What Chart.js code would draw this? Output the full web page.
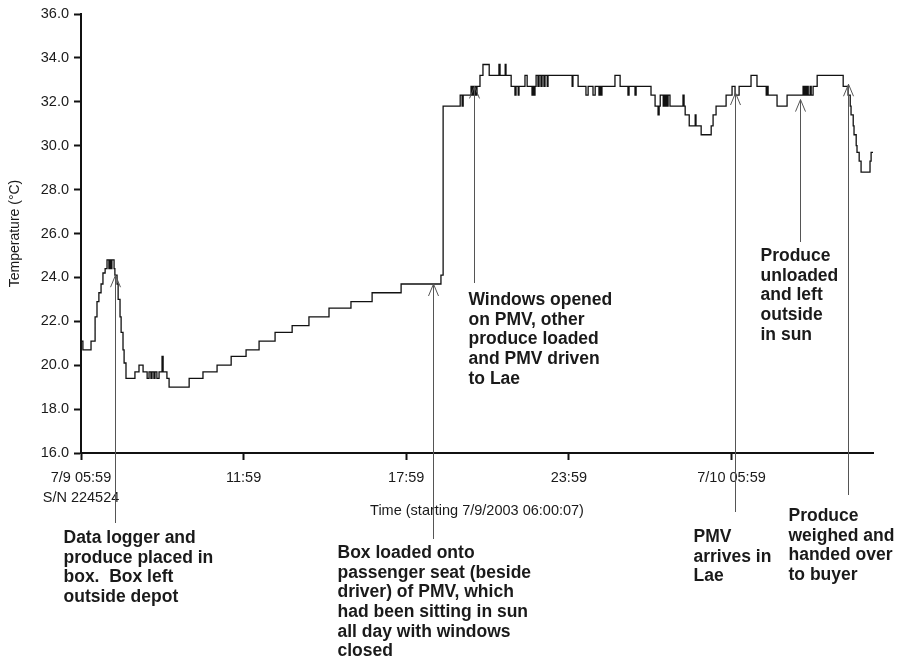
<!DOCTYPE html>
<html>
<head>
<meta charset="utf-8">
<title>Temperature log</title>
<script src="https://cdn.jsdelivr.net/npm/chart.js@4.4.1/dist/chart.umd.min.js"></script>
<style>
  body { margin: 0; background: #fff; }
  #wrap { width: 908px; height: 660px; }
</style>
</head>
<body>
<div id="wrap"><canvas id="chart" width="908" height="660"></canvas></div>
<script>
const hours = [
  0, 0.07, 0.37, 0.52, 0.59, 0.66, 0.74, 0.81, 0.89, 0.96,
  1.03, 1.07, 1.11, 1.14, 1.22, 1.25, 1.33, 1.37, 1.44, 1.48,
  1.55, 1.59, 1.66, 1.99, 2.14, 2.29, 2.44, 2.51, 2.58, 2.62,
  2.69, 2.73, 2.80, 2.88, 2.99, 3.03, 3.17, 3.25, 3.99, 4.50,
  5.02, 5.54, 6.09, 6.57, 7.16, 7.79, 8.41, 9.15, 9.96, 10.74,
  11.81, 13.28, 13.36, 13.99, 14.06, 14.10, 14.39, 14.43, 14.46, 14.50,
  14.54, 14.58, 14.61, 14.72, 14.83, 15.06, 15.42, 15.46, 15.65, 15.68,
  15.87, 16.01, 16.05, 16.13, 16.16, 16.38, 16.46, 16.64, 16.68, 16.72,
  16.75, 16.79, 16.86, 16.90, 16.97, 17.01, 17.08, 17.12, 17.20, 17.23,
  18.12, 18.15, 18.34, 18.63, 18.71, 18.89, 18.97, 19.11, 19.15, 19.19,
  19.22, 19.70, 19.89, 20.18, 20.22, 20.44, 20.48, 21.03, 21.18, 21.29,
  21.33, 21.37, 21.48, 21.51, 21.55, 21.59, 21.62, 21.66, 21.73, 22.21,
  22.25, 22.29, 22.44, 22.66, 22.69, 22.88, 23.25, 23.32, 23.43, 23.80,
  24.02, 24.13, 24.28, 24.72, 24.94, 25.28, 25.31, 25.35, 25.68, 26.05,
  26.64, 26.68, 26.72, 26.75, 26.79, 26.83, 26.90, 26.94, 27.01, 27.16,
  28.12, 28.30, 28.38, 28.41, 28.49, 28.52, 28.60, 28.63, 28.71, 28.78,
  29.11, 29.15, 29.22
];
const temps = [
  21.1, 20.7, 21.1, 22.2, 22.9, 23.3, 23.7, 24.2, 24.4, 24.8,
  24.4, 24.8, 24.4, 24.8, 24.4, 24.1, 23.7, 23.0, 22.2, 21.5,
  20.7, 20.1, 19.4, 19.7, 20.0, 19.7, 19.4, 19.7, 19.4, 19.7,
  19.4, 19.7, 19.4, 19.7, 20.4, 19.7, 19.4, 19.0, 19.4, 19.7,
  20.0, 20.4, 20.7, 21.1, 21.5, 21.8, 22.2, 22.6, 22.9, 23.3,
  23.7, 24.1, 31.8, 32.3, 31.8, 32.3, 32.7, 32.3, 32.7, 32.3,
  32.7, 32.3, 32.7, 33.2, 33.7, 33.2, 33.7, 33.2, 33.7, 33.2,
  32.7, 32.3, 32.7, 32.3, 32.7, 33.2, 32.7, 32.3, 32.7, 32.3,
  32.7, 33.2, 32.7, 33.2, 32.7, 33.2, 32.7, 33.2, 32.7, 33.2,
  32.7, 33.2, 32.7, 32.3, 32.7, 32.3, 32.7, 32.3, 32.7, 32.3,
  32.7, 33.2, 32.7, 32.3, 32.7, 32.3, 32.7, 32.3, 31.8, 31.4,
  31.8, 32.3, 31.8, 32.3, 31.8, 32.3, 31.8, 32.3, 31.8, 32.3,
  31.8, 31.4, 30.9, 31.4, 30.9, 30.5, 30.9, 31.4, 31.8, 32.3,
  32.7, 32.3, 32.7, 33.2, 32.7, 32.3, 32.7, 32.3, 31.8, 32.3,
  32.7, 32.3, 32.7, 32.3, 32.7, 32.3, 32.7, 32.3, 32.7, 33.2,
  32.7, 32.3, 31.8, 31.4, 30.9, 30.5, 30.0, 29.7, 29.3, 28.8,
  29.3, 29.7, 29.7
];

// x axis ticks
const tickHours = [0, 6, 12, 18, 24];
const tickLabels = [["7/9 05:59", "S/N 224524"], "11:59", "17:59", "23:59", "7/10 05:59"];

// event notes: where the arrow points (hours, temp) and the text under it
const noteHours = [1.25, 12.99, 14.50, 24.13, 26.53, 28.30];
const noteTemps = [24.1, 23.7, 32.7, 32.4, 32.1, 32.8];
const noteTexts = [
  ["Data logger and", "produce placed in", "box.  Box left", "outside depot"],
  ["Box loaded onto", "passenger seat (beside", "driver) of PMV, which", "had been sitting in sun", "all day with windows", "closed"],
  ["Windows opened", "on PMV, other", "produce loaded", "and PMV driven", "to Lae"],
  ["PMV", "arrives in", "Lae"],
  ["Produce", "unloaded", "and left", "outside", "in sun"],
  ["Produce", "weighed and", "handed over", "to buyer"]
];
// text offset from the arrow, first line y, where the arrow line stops
const noteLayout = [
  { dx: -52, top: 538, lineEnd: 523 },
  { dx: -96, top: 553, lineEnd: 539 },
  { dx: -6, top: 300, lineEnd: 283 },
  { dx: -42, top: 537, lineEnd: 512 },
  { dx: -40, top: 256, lineEnd: 242 },
  { dx: -60, top: 516, lineEnd: 495 }
];

const FONT = '"Liberation Sans", Arial, sans-serif';
const ink = '#1a1a1a';

var notesPlugin = {
  id: 'notes',
  afterDraw: function (chart) {
    const ctx = chart.ctx;
    const xs = chart.scales.x, ys = chart.scales.y;
    ctx.save();
    noteHours.forEach(function (h, i) {
      const px = Math.round(xs.getPixelForValue(h)) + 0.5;
      const py = ys.getPixelForValue(noteTemps[i]);
      const lay = noteLayout[i];
      // arrow
      ctx.strokeStyle = '#555';
      ctx.lineWidth = 1;
      ctx.beginPath();
      ctx.moveTo(px, py);
      ctx.lineTo(px, lay.lineEnd);
      ctx.moveTo(px - 5, py + 12);
      ctx.lineTo(px, py);
      ctx.lineTo(px + 5, py + 12);
      ctx.stroke();
      // label
      ctx.fillStyle = ink;
      ctx.font = 'bold 17.5px ' + FONT;
      ctx.textAlign = 'left';
      ctx.textBaseline = 'middle';
      noteTexts[i].forEach(function (line, j) {
        ctx.fillText(line, px + lay.dx, lay.top + j * 19.7);
      });
    });
    ctx.restore();
  }
};

const ctx = document.getElementById('chart').getContext('2d');
const chart = new Chart(ctx, {
  type: 'line',
  data: {
    datasets: [{
      data: hours.map(function (h, i) { return { x: h, y: temps[i] }; }),
      stepped: true,
      borderColor: '#111',
      borderWidth: 1.3,
      pointRadius: 0,
      fill: false
    }]
  },
  options: {
    responsive: false,
    animation: false,
    devicePixelRatio: 1,
    layout: { padding: { top: 14, right: 35, bottom: 140, left: 0 } },
    plugins: {
      legend: { display: false },
      tooltip: { enabled: false }
    },
    scales: {
      x: {
        type: 'linear',
        min: 0,
        max: 29.22,
        afterBuildTicks: function (scale) {
          scale.ticks = tickHours.map(function (v) { return { value: v }; });
        },
        afterFit: function (scale) { scale.height = 67; },
        ticks: {
          callback: function (v, i) { return tickLabels[i]; },
          autoSkip: false,
          maxRotation: 0,
          padding: 8,
          color: ink,
          font: { family: FONT, size: 14.5, lineHeight: 1.4 }
        },
        grid: { drawOnChartArea: false, tickLength: 7, tickWidth: 2, tickColor: '#111' },
        border: { color: '#111', width: 2 },
        title: {
          display: true,
          text: 'Time (starting 7/9/2003 06:00:07)',
          color: ink,
          padding: 0,
          font: { family: FONT, size: 14.5 }
        }
      },
      y: {
        min: 16,
        max: 36,
        afterFit: function (scale) { scale.width = 81; },
        ticks: {
          stepSize: 2,
          callback: function (v) { return v.toFixed(1); },
          padding: 5,
          color: ink,
          font: { family: FONT, size: 14.5 }
        },
        grid: { drawOnChartArea: false, tickLength: 7, tickWidth: 2, tickColor: '#111' },
        border: { color: '#111', width: 2 },
        title: {
          display: true,
          text: 'Temperature (°C)',
          color: ink,
          padding: { top: 7, bottom: 0 },
          font: { family: FONT, size: 14 }
        }
      }
    }
  },
  plugins: [notesPlugin]
});
</script>
</body>
</html>
